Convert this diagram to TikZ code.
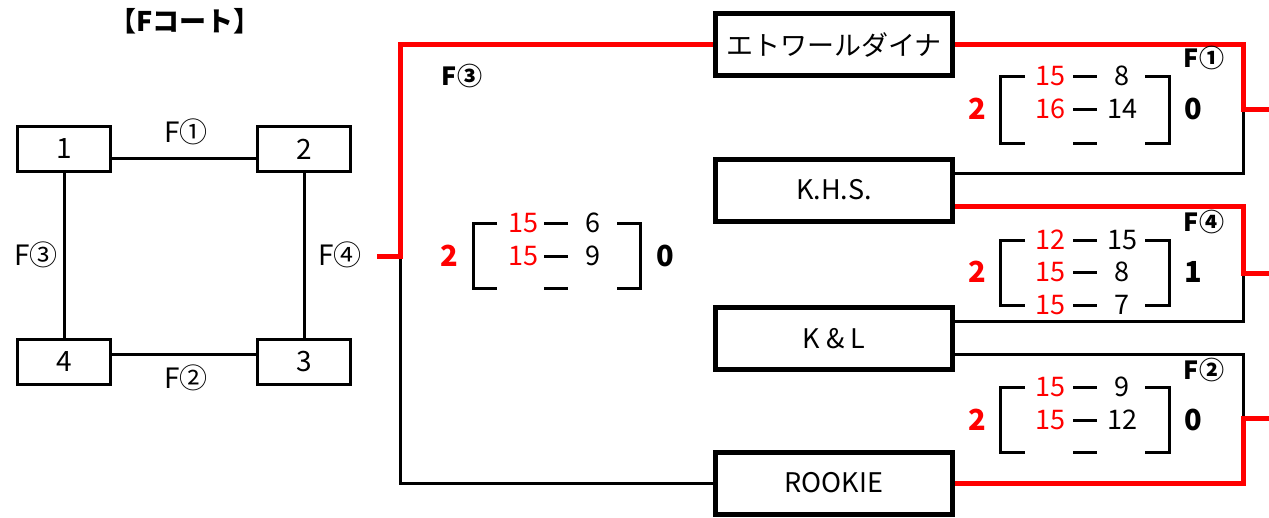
\documentclass[tikz,border=0pt]{standalone}
\usepackage{fontspec}
\setmainfont{Noto Sans CJK JP}
\begin{document}
\begin{tikzpicture}[x=1pt,y=-1pt,
  court/.style={draw, line width=3pt, minimum width=93pt, minimum height=45pt, inner sep=0pt, font=\fontsize{28}{28}\selectfont},
  team/.style={draw, line width=5pt, minimum width=237pt, minimum height=62pt, inner sep=0pt, font=\fontsize{27}{27}\selectfont},
  conn/.style={line width=3pt},
  win/.style={red, line width=5pt},
  brk/.style={line width=3pt},
  lbl/.style={inner sep=0pt, font=\fontsize{28}{28}\selectfont},
  blbl/.style={inner sep=0pt, font=\fontsize{25}{25}\selectfont\bfseries},
  num/.style={inner sep=0pt, font=\fontsize{27}{27}\selectfont},
  wnum/.style={inner sep=0pt, red, font=\fontsize{27}{27}\selectfont},
  tot/.style={inner sep=0pt, font=\fontsize{29}{29}\selectfont\bfseries}
]
\useasboundingbox (0,0) rectangle (1269,517);

% title
\node[inner sep=0pt, font=\fontsize{27}{27}\selectfont\bfseries] (title) at (185,21) {【Fコート】};

% left court diagram
\node[court] (b1) at (64,149) {1};
\node[court] (b2) at (304,149) {2};
\node[court] (b4) at (64,362) {4};
\node[court] (b3) at (304,362) {3};
\draw[conn] ([yshift=-9pt]b1.east) -- ([yshift=-9pt]b2.west);
\draw[conn] (b1.south) -- (b4.north);
\draw[conn] (b2.south) -- (b3.north);
\draw[conn] ([yshift=8pt]b4.east) -- ([yshift=8pt]b3.west);
\node[lbl] (l1) at (186,132) {F①};
\node[lbl] (l2) at (186,378) {F②};
\node[lbl] (l3) at (36,255) {F③};
\node[lbl] (l4) at (340,255) {F④};

% teams
\node[team] (etoile) at (834,44.5) {エトワールダイナ};
\node[team] (khs) at (834,190) {K.H.S.};
\node[team] (kl) at (834,338.5) {K \& L};
\node[team] (rookie) at (834,483) {ROOKIE};

% final bracket
\coordinate (f4out) at (377,256);
\coordinate (split) at (400,256);
\draw[conn] (split) |- (rookie.west);
\draw[win] (f4out) -- (split) |- (etoile.west);

% right bracket
\coordinate (j1) at (1243,109);
\coordinate (o1) at (1269,109);
\coordinate (j2) at (1243,273);
\coordinate (o2) at (1269,273);
\coordinate (j3) at (1243,418);
\coordinate (o3) at (1269,418);
\draw[conn] ([yshift=17pt]khs.east) -| (j1);
\draw[win] (etoile.east) -| (j1) -- (o1);
\draw[conn] ([yshift=17pt]kl.east) -| (j2);
\draw[win] ([yshift=-16pt]khs.east) -| (j2) -- (o2);
\draw[conn] ([yshift=-16pt]kl.east) -| (j3);
\draw[win] (rookie.east) -| (j3) -- (o3);

\node[blbl] (m1) at (1204,58) {F①};
\node[blbl] (m4) at (1204,222) {F④};
\node[blbl] (m2) at (1204,370) {F②};
\node[blbl] (m3) at (462,76) {F③};

% center score (F3)
\draw[brk] (497,223) -| (473,288) -- (497,288);
\draw[brk] (617,223) -| (640,288) -- (617,288);
\draw[brk] (544,223) -- (568,223);
\draw[brk] (544,256) -- (568,256);
\draw[brk] (544,288) -- (568,288);
\node[wnum] (c1a) at (523,223) {15};
\node[num] (c1b) at (593,223) {6};
\node[wnum] (c2a) at (523,256) {15};
\node[num] (c2b) at (593,256) {9};
\node[tot, red] (ct1) at (449,256) {2};
\node[tot] (ct2) at (665,256) {0};

% F1 score
\draw[brk] (1025,76) -| (1000,143) -- (1025,143);
\draw[brk] (1145,76) -| (1169,143) -- (1145,143);
\draw[brk] (1073,76) -- (1097,76);
\draw[brk] (1073,109) -- (1097,109);
\draw[brk] (1073,143) -- (1097,143);
\node[wnum] (a1a) at (1050,76) {15};
\node[num] (a1b) at (1122,76) {8};
\node[wnum] (a2a) at (1050,109) {16};
\node[num] (a2b) at (1122,109) {14};
\node[tot, red] (at1) at (977,109) {2};
\node[tot] (at2) at (1193,109) {0};

% F4 score
\draw[brk] (1025,240) -| (1000,305) -- (1025,305);
\draw[brk] (1145,240) -| (1169,305) -- (1145,305);
\draw[brk] (1073,240) -- (1097,240);
\draw[brk] (1073,272) -- (1097,272);
\draw[brk] (1073,305) -- (1097,305);
\node[wnum] (d1a) at (1050,240) {12};
\node[num] (d1b) at (1122,240) {15};
\node[wnum] (d2a) at (1050,272) {15};
\node[num] (d2b) at (1122,272) {8};
\node[wnum] (d3a) at (1050,305) {15};
\node[num] (d3b) at (1122,305) {7};
\node[tot, red] (dt1) at (977,272) {2};
\node[tot] (dt2) at (1193,272) {1};

% F2 score
\draw[brk] (1025,387) -| (1000,452) -- (1025,452);
\draw[brk] (1145,387) -| (1169,452) -- (1145,452);
\draw[brk] (1073,387) -- (1097,387);
\draw[brk] (1073,420) -- (1097,420);
\draw[brk] (1073,452) -- (1097,452);
\node[wnum] (e1a) at (1050,387) {15};
\node[num] (e1b) at (1122,387) {9};
\node[wnum] (e2a) at (1050,420) {15};
\node[num] (e2b) at (1122,420) {12};
\node[tot, red] (et1) at (977,420) {2};
\node[tot] (et2) at (1193,420) {0};
\end{tikzpicture}
\end{document}
